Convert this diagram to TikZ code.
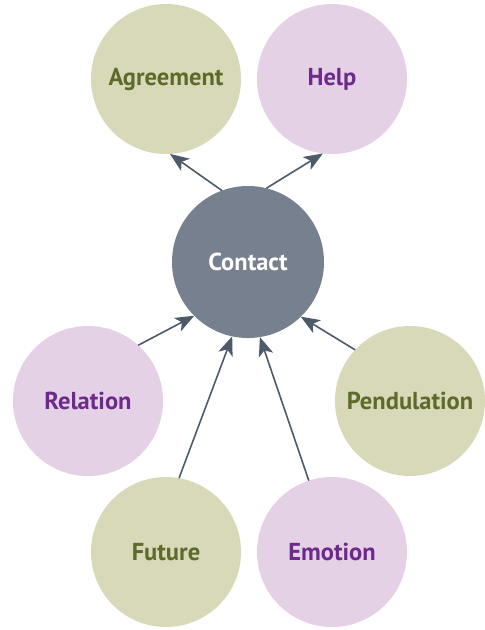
\documentclass[tikz,border=0pt]{standalone}
\usepackage{fontspec}
\setmainfont{PT Sans}
\usetikzlibrary{arrows.meta}
\definecolor{greenfill}{HTML}{D7D9B8}
\definecolor{greentext}{HTML}{5C6A2A}
\definecolor{pinkfill}{HTML}{E4D1E6}
\definecolor{pinktext}{HTML}{6D2A8A}
\definecolor{hubfill}{HTML}{76808E}
\definecolor{linecol}{HTML}{4D5A68}
\begin{document}
\begin{tikzpicture}[x=1pt,y=-1pt,
  bubble/.style={circle,minimum size=150pt,inner sep=0pt,outer sep=0pt,font=\fontsize{24.5}{28}\selectfont\bfseries},
  greenbubble/.style={bubble,fill=greenfill,text=greentext},
  pinkbubble/.style={bubble,fill=pinkfill,text=pinktext},
  hub/.style={bubble,minimum size=152pt,fill=hubfill,text=white},
  link/.style={draw=linecol,line width=1.6pt,-{Stealth[length=19pt,width=15pt,inset=5pt]}}]
\useasboundingbox (0,0) rectangle (485,630);
\node[hub] (contact) at (248,262) {Contact};
\node[greenbubble] (agr) at (166,79) {Agreement};
\node[pinkbubble] (help) at (332,79) {Help};
\node[pinkbubble] (rel) at (88,401) {Relation};
\node[greenbubble] (pend) at (410,401) {Pendulation};
\node[greenbubble] (fut) at (166,552) {Future};
\node[pinkbubble] (emo) at (332,552) {Emotion};
\draw[link] (contact.110) -- (agr.-87);
\draw[link] (contact.76) -- (help.-97);
\draw[link] (rel.48) -- (contact.-135);
\draw[link] (pend.137) -- (contact.-46);
\draw[link] (fut.80) -- (contact.-102);
\draw[link] (emo.108) -- (contact.-81);
\end{tikzpicture}
\end{document}
